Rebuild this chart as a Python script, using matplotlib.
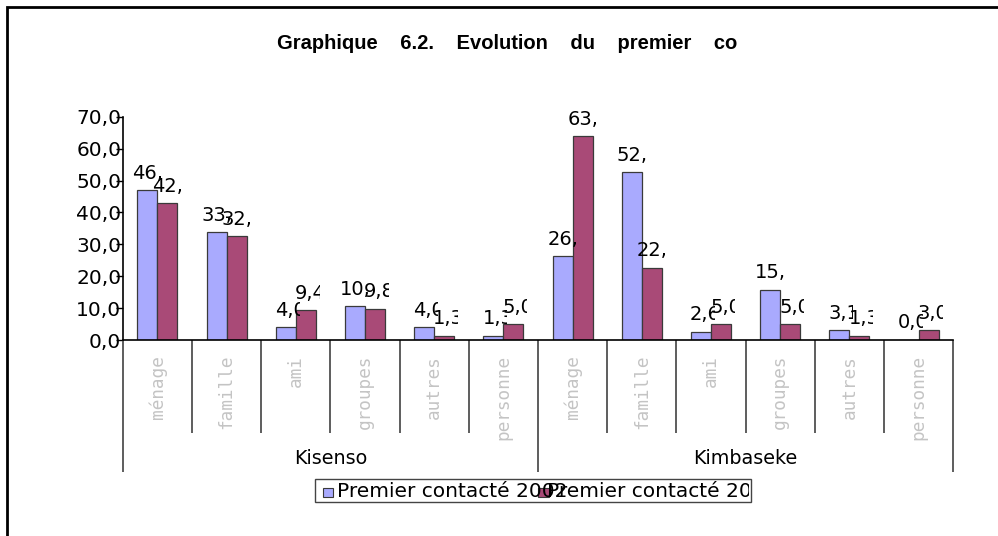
import matplotlib.pyplot as plt
import numpy as np
from matplotlib.patches import Rectangle
from matplotlib.transforms import Bbox, IdentityTransform

plt.rcParams["font.family"] = "DejaVu Sans"

W, H, DPI = 998, 536, 100
COLORS = ("#a9aafe", "#a94a77")
EDGE = "#3a3a3a"
SEP = "#505050"

communes = ["Kisenso", "Kimbaseke"]
categories = ["ménage", "famille", "ami", "groupes", "autres", "personne"]
series_names = ["Premier contacté 2002", "Premier contacté 2007"]
kisenso_first = [46.9, 33.8, 4.0, 10.6, 4.0, 1.3]
kisenso_second = [42.8, 32.6, 9.4, 9.8, 1.3, 5.0]
kimbaseke_first = [26.3, 52.6, 2.6, 15.7, 3.1, 0.0]
kimbaseke_second = [63.8, 22.6, 5.0, 5.0, 1.3, 3.0]
y_ticks = [0, 10, 20, 30, 40, 50, 60, 70]
title = "    ".join(["Graphique", "6.2.", "Evolution", "du", "premier", "contact"])

first = np.array(kisenso_first + kimbaseke_first)
second = np.array(kisenso_second + kimbaseke_second)
n = len(first)
BAR_W = 0.289


def fmt(v):
    return f"{v:.1f}".replace(".", ",")


def clipped_text(x, y, s, clip, **kw):
    # text placed in pixels, cut off at a fixed box like a spreadsheet label
    t = fig.text(x, y, s, transform=IdentityTransform(), **kw)
    t.set_clip_box(Bbox.from_extents(*clip))
    t.set_clip_on(True)
    return t


fig = plt.figure(figsize=(W / DPI, H / DPI), dpi=DPI)
ax = fig.add_axes([122.7 / W, 1 - 340 / H, (953.3 - 122.7) / W, (340 - 116.7) / H])

x = np.arange(n) + 0.5
ax.bar(x - BAR_W / 2, first, BAR_W, color=COLORS[0], edgecolor=EDGE, linewidth=0.9)
ax.bar(x + BAR_W / 2, second, BAR_W, color=COLORS[1], edgecolor=EDGE, linewidth=0.9)

ax.set_xlim(0, n)
ax.set_ylim(0, 70)
ax.set_yticks(y_ticks)
ax.set_yticklabels([fmt(v) for v in y_ticks])
ax.tick_params(axis="y", direction="out", length=5, width=1, pad=-4, labelsize=14.5)
ax.set_xticks([])
for side in ("top", "right"):
    ax.spines[side].set_visible(False)
for side in ("left", "bottom"):
    ax.spines[side].set_linewidth(1.2)
    ax.spines[side].set_color("black")

# separators under the axis: short ones between categories, long ones between communes
xt = ax.get_xaxis_transform()
per_axes_px = 1 / (340 - 116.7)
for k in range(n + 1):
    depth = 471.7 - 340 if k % 6 == 0 else 433.3 - 340
    ax.plot([k, k], [0, -depth * per_axes_px], transform=xt, color=SEP,
            lw=1.3, clip_on=False, solid_capstyle="butt")

for i in range(n):
    ax.text(x[i], -15 * per_axes_px, categories[i % 6], transform=xt, rotation=90,
            ha="center", va="top", color="#c4c4c4", family="DejaVu Sans Mono",
            fontsize=12.8)

for g, name in enumerate(communes):
    ax.text(3 + 6 * g, -(458 - 340) * per_axes_px, name, transform=xt,
            ha="center", va="center", fontsize=13.8)

# value labels above bars, cut to a narrow box right of the bar centre
for vals, shift in ((first, -BAR_W / 2), (second, BAR_W / 2)):
    for xi, v in zip(x + shift, vals):
        dx, dy = ax.transData.transform((xi, v))
        s = fmt(v)
        start = dx - 11 - 4 * (len(s.split(",")[0]) - 1)
        clipped_text(start, dy + 11.5, s, (start, dy, dx + 14, dy + 40),
                     fontsize=14, va="baseline", ha="left")

# title, cut at the right edge of its box
clipped_text(276.7, H - 49.3, title, (260, H - 70, 737, H - 20),
             family="Liberation Sans", fontweight="bold", fontsize=14.5,
             va="baseline", ha="left")

# legend box drawn by hand, entries overlap and get cut at the box edge
box = (315, H - 501.7, 750.7, H - 479.3)
fig.add_artist(Rectangle((box[0], box[1]), box[2] - box[0], box[3] - box[1],
                         transform=IdentityTransform(), facecolor="white",
                         edgecolor="#444444", lw=1))
inner = (box[0], box[1], box[2] - 1.5, box[3])
clipped_text(336.7, H - 497.3, series_names[0], inner, fontsize=14.5,
             va="baseline", ha="left")
fig.add_artist(Rectangle((323, H - 496.5), 10, 9, transform=IdentityTransform(),
                         facecolor=COLORS[0], edgecolor=EDGE, lw=0.8))
fig.add_artist(Rectangle((537.5, H - 497.3), 11, 9, transform=IdentityTransform(),
                         facecolor=COLORS[1], edgecolor=EDGE, lw=0.8))
clipped_text(547, H - 497.3, series_names[1], inner, fontsize=14.5,
             va="baseline", ha="left")

# outer frame, only its top and left edges fall inside the picture
fig.add_artist(Rectangle((7, -20), 2000, H - 7 + 20, transform=IdentityTransform(),
                         facecolor="none", edgecolor="black", lw=2))

fig.savefig("out.png", dpi=DPI, facecolor="white")
